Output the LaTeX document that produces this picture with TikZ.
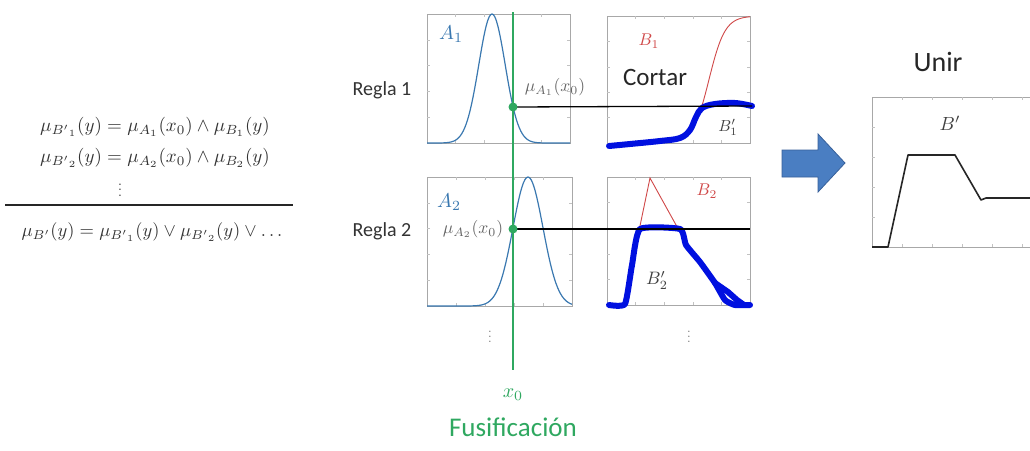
\documentclass[tikz,border=0pt]{standalone}
\usepackage{fontspec}
\newfontfamily\calib{Carlito}
\usepackage{amsmath}
\usepackage{graphicx}
\definecolor{cblue}{HTML}{3A78B0}
\definecolor{cgreen}{HTML}{2FA860}
\definecolor{cred}{HTML}{D04848}
\definecolor{tblue}{HTML}{0010E0}
\definecolor{arrowfill}{HTML}{4A7EC2}
\definecolor{arrowedge}{HTML}{37609A}
\definecolor{boxgray}{HTML}{A8A8A8}
\tikzset{
  plotbox/.style={draw=boxgray, line width=0.8pt},
  sanslabel/.style={font=\calib\fontsize{20}{24}\selectfont, text=black!80, inner sep=0pt},
  biglabel/.style={font=\calib\fontsize{26}{30}\selectfont, text=black!85, inner sep=0pt},
  cutline/.style={line width=1.3pt, black},
  bcurve/.style={line width=1.2pt, cblue},
  rcurve/.style={line width=0.9pt, cred},
  thickblue/.style={line width=6pt, tblue, line cap=round, line join=round},
  small/.style={inner sep=0pt},
  formula/.style={text=black!80, inner sep=0pt}
}
\newcommand{\sm}[2]{\scalebox{#1}{$#2$}}
\newcommand{\ticksbox}[4]{%
  \draw[plotbox] (#1,#2) rectangle (#3,#4);
  \foreach \t in {1,...,4}{
    \draw[boxgray!70, line width=0.4pt] ({#1+(#3-#1)*\t/5},#4) -- ++(0,-3);
    \draw[boxgray!70, line width=0.4pt] ({#1+(#3-#1)*\t/5},#2) -- ++(0,3);
    \draw[boxgray!70, line width=0.4pt] (#1,{#2+(#4-#2)*\t/5}) -- ++(3,0);
    \draw[boxgray!70, line width=0.4pt] (#3,{#2+(#4-#2)*\t/5}) -- ++(-3,0);
  }}
\begin{document}
\begin{tikzpicture}[x=1pt,y=-1pt]
\useasboundingbox (0,0) rectangle (1030,450);
\fill[white] (0,0) rectangle (1030,450);

% ---------- formulas ----------
\node[formula] (f1) at (155,127) {\sm{1.9}{\mu_{{B'}_1}(y) = \mu_{A_1}(x_0)\wedge\mu_{B_1}(y)}};
\node[formula] (f2) at (155,158) {\sm{1.9}{\mu_{{B'}_2}(y) = \mu_{A_2}(x_0)\wedge\mu_{B_2}(y)}};
\node[formula] (f3) at (120,186) {\sm{1.4}{\vdots}};
\coordinate (r1) at (5,205);
\coordinate (r2) at (293,205);
\draw[line width=1.3pt, black!85] (r1) -- (r2);
\node[formula] (f4) at (152,232) {\sm{1.85}{\mu_{B'}(y) = \mu_{{B'}_1}(y)\vee\mu_{{B'}_2}(y)\vee \ldots}};

% ---------- boxes ----------
\ticksbox{427}{14}{570}{143}
\ticksbox{607}{16}{750}{143}
\ticksbox{427}{177}{572}{306}
\ticksbox{607}{177}{750}{305}

\node[sanslabel] (reg1) at (382,90) {Regla 1};
\node[sanslabel] (reg2) at (382,231) {Regla 2};

% A1 gaussian
\draw[bcurve, domain=427:570, samples=100, smooth] plot (\x,{143-129*exp(-((\x-492)^2)/(2*13.2*13.2))});
% A2 gaussian
\draw[bcurve, domain=427:572, samples=100, smooth] plot (\x,{306-129*exp(-((\x-528)^2)/(2*15*15))});

\node[small, text=cblue] (a1) at (451,34) {\sm{2.0}{A_1}};
\node[small, text=cblue] (a2) at (449,202) {\sm{2.0}{A_2}};
\node[small, text=black!60] (mu1) at (555,87) {\sm{1.75}{\mu_{A_1}(x_0)}};
\node[small, text=black!60] (mu2) at (473,229) {\sm{1.75}{\mu_{A_2}(x_0)}};

% B1
\draw[rcurve, domain=690:750, samples=60, smooth] plot (\x,{143-127/(1+exp(-(\x-709)/8))});
\draw[thickblue] plot[smooth, tension=0.6] coordinates {(609,146) (630,144) (660,141) (680,138) (690,130) (696,117) (702,108) (715,104) (735,103) (752,106)};
\node[small, text=cred] (b1) at (649,41) {\sm{1.7}{B_1}};
\node[biglabel, font=\calib\fontsize{25}{30}\selectfont] (cortar) at (655,77) {Cortar};
\node[small, text=black!75] (b1p) at (728,127) {\sm{1.6}{B_1'}};

% B2
\draw[rcurve] (636,245) -- (650,178) -- (686,243);
\draw[thickblue] plot[smooth, tension=0.3] coordinates {(609,305) (625,304) (632,265) (640,229) (680,229) (686,245) (700,262) (715,283) (725,300) (735,305) (750,305)};
\draw[thickblue] (715,283) -- (728,292) -- (737,300) -- (744,305);
\node[small, text=cred] (b2) at (707,191) {\sm{1.7}{B_2}};
\node[small, text=black!75] (b2p) at (657,280) {\sm{1.8}{B_2'}};

% green line & dots
\coordinate (gtop) at (513,12);
\coordinate (gbot) at (513,370);
\draw[cgreen, line width=1.5pt] (gtop) -- (gbot);
\coordinate (d1) at (513,107);
\coordinate (d2) at (513,229);
\coordinate (e1) at (752,106);
\coordinate (e2) at (750,229);
\draw[cutline] (d1) -- (e1);
\draw[cutline] (d2) -- (e2);
\fill[cgreen] (d1) circle (4.5pt);
\fill[cgreen] (d2) circle (4.5pt);

\node[formula, text=black!55] (v1) at (490,333) {\sm{1.3}{\vdots}};
\node[formula, text=black!55] (v2) at (689,333) {\sm{1.3}{\vdots}};
\node[small, text=cgreen] (x0) at (513,395) {\sm{2.0}{x_0}};
\node[biglabel, text=cgreen, font=\calib\fontsize{27}{30}\selectfont] (fus) at (513,427) {Fusificación};

% arrow
\draw[fill=arrowfill, draw=arrowedge, line width=0.8pt]
  (782,150) -- (818,150) -- (818,134) -- (845,163) -- (818,192) -- (818,177) -- (782,177) -- cycle;

% Unir
\node[biglabel, font=\calib\fontsize{28}{32}\selectfont] (unir) at (938,62) {Unir};
\draw[plotbox] (1040,97) -- (872,97) -- (872,247) -- (1040,247);
\foreach \t in {1,...,4}{
  \draw[boxgray!70, line width=0.4pt] (872,{97+150*\t/5}) -- ++(3,0);
}
\foreach \t in {1,...,5}{
  \draw[boxgray!70, line width=0.4pt] ({872+30*\t},97) -- ++(0,3);
  \draw[boxgray!70, line width=0.4pt] ({872+30*\t},247) -- ++(0,-3);
}
\node[small, text=black!75] (bp) at (950,123) {\sm{1.9}{B'}};
\draw[line width=1.6pt, black!85, line join=round] (872,247) -- (888,247) -- (908,155) -- (955,155) -- (981,200) -- (986,198) -- (1032,198);
\end{tikzpicture}
\end{document}
